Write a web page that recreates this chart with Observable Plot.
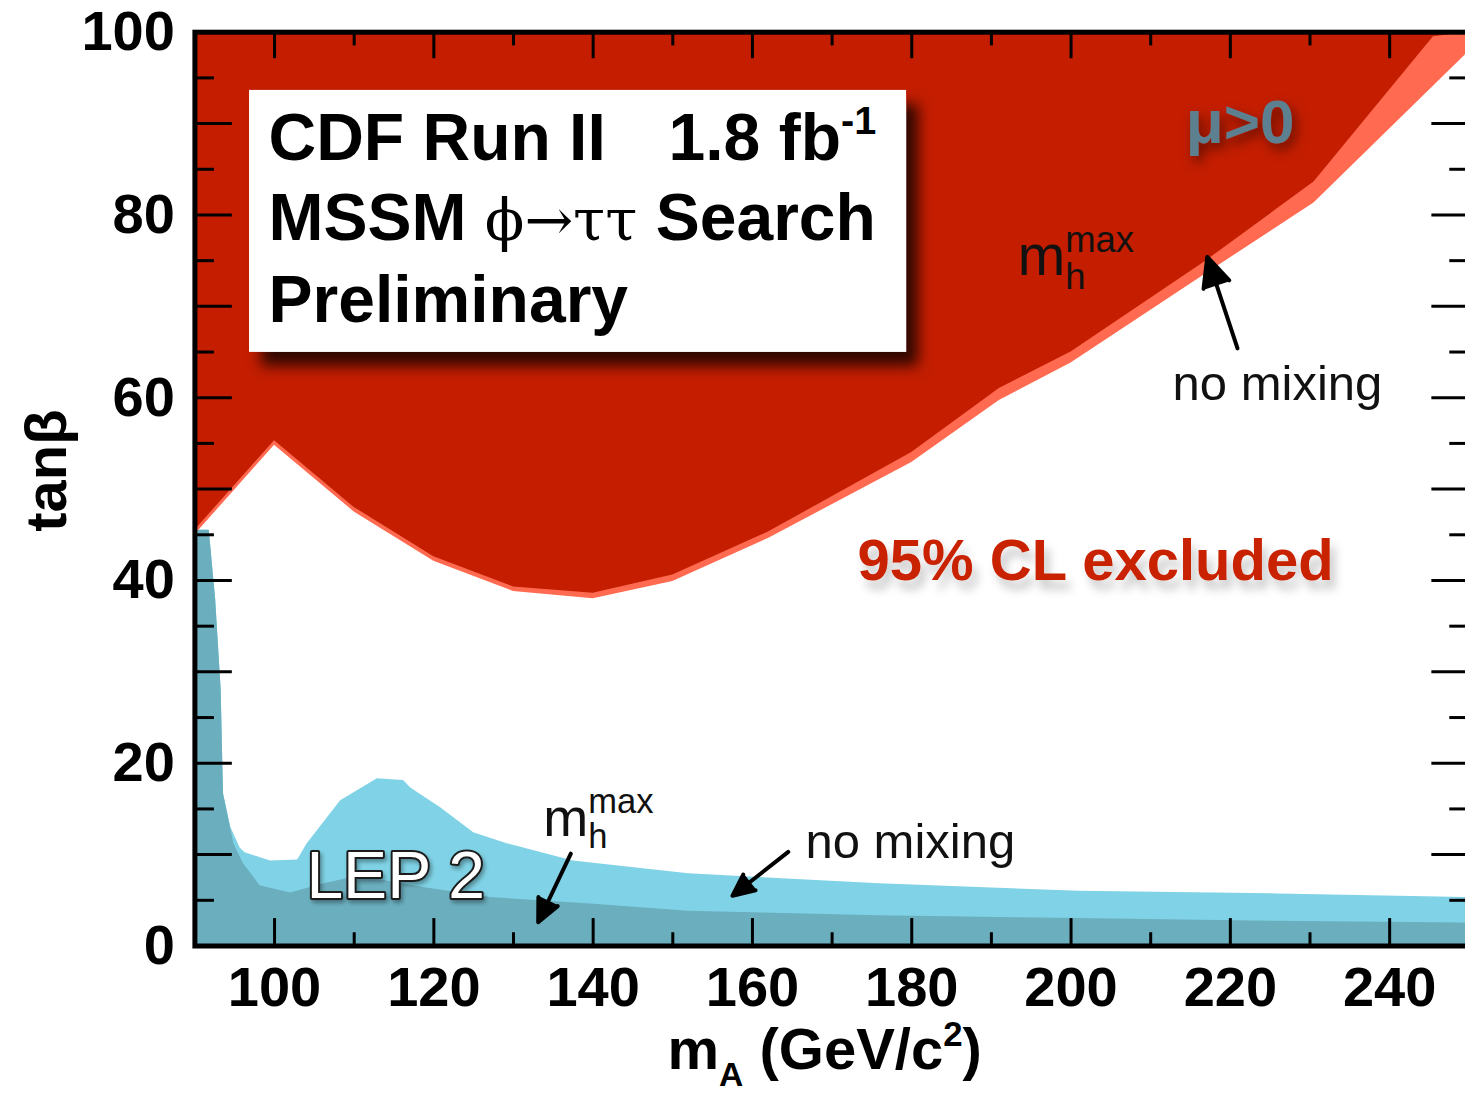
<!DOCTYPE html>
<html><head><meta charset="utf-8">
<script src="https://cdn.jsdelivr.net/npm/d3@7"></script>
<script src="https://cdn.jsdelivr.net/npm/@observablehq/plot@0.6"></script>
<style>
html,body{margin:0;padding:0;background:#fff;overflow:hidden;width:1465px;height:1095px;}
#chart{width:1465px;height:1095px;overflow:hidden;position:relative;}
</style></head><body><div id="chart"></div>
<script>
// CDF 95% CL exclusion boundaries (region above boundary excluded)
const mA_cdf_mhmax   = [90, 100, 110, 120, 130, 140, 150, 162, 180, 191, 200, 217, 230.5, 245.5, 250];
const tanb_cdf_mhmax = [45.5, 55.3, 48.0, 42.6, 39.3, 38.6, 40.6, 45.3, 54.0, 61.0, 65.0, 75.0, 83.6, 99.5, 100];
const mA_cdf_nomix   = [90, 100, 110, 120, 130, 140, 150, 162, 180, 191, 200, 217, 230.5, 249.5, 250];
const tanb_cdf_nomix = [45.0, 54.8, 47.5, 42.1, 38.8, 38.0, 39.9, 44.6, 52.9, 59.7, 63.8, 73.6, 81.3, 97.5, 98.1];
// LEP 2 exclusion (region below boundary excluded)
const mA_lep_nomix   = [90, 91.8, 92.6, 93.3, 93.5, 93.6, 94.5, 95.7, 96.3, 99.5, 102.9, 104.1, 108.3, 112.9, 116.2, 117.1, 120.9, 125, 129.2, 137.5, 152, 176, 201, 226, 250];
const tanb_lep_nomix = [45.5, 45.5, 38, 28, 20, 16.6, 13.0, 10.7, 10.2, 9.3, 9.4, 11.2, 15.9, 18.3, 18.1, 17.3, 15.1, 12.4, 11.2, 9.3, 7.9, 6.8, 6.0, 5.7, 5.3];
const mA_lep_mhmax   = [90, 91.8, 92.6, 93.3, 93.5, 93.6, 94.9, 96.1, 98.2, 102, 106.2, 109.2, 112.9, 118.7, 127.1, 139.7, 152, 176, 201, 226, 250];
const tanb_lep_mhmax = [45.5, 45.5, 38, 28, 20, 16.6, 11.2, 9.0, 6.6, 5.8, 6.8, 7.4, 7.3, 6.4, 5.3, 4.6, 3.8, 3.3, 3.0, 2.7, 2.5];
// ticks
const x_tick_labels = [100, 120, 140, 160, 180, 200, 220, 240];
const x_ticks_minor = [110, 130, 150, 170, 190, 210, 230];
const y_tick_labels = [0, 20, 40, 60, 80, 100];
const y_ticks_major = [10, 20, 30, 40, 50, 60, 70, 80, 90];
const y_ticks_minor = [5, 15, 25, 35, 45, 55, 65, 75, 85, 95];

const zip = (xs, ys) => xs.map((x, i) => ({x, y: ys[i]}));
const serif = "'DejaVu Serif','Liberation Serif',serif";

const plot = Plot.plot({
  width: 1475, height: 1095,
  marginLeft: 194.4, marginRight: 6.2, marginTop: 31.7, marginBottom: 149.5,
  style: {fontFamily: "'Liberation Sans', Arial, Helvetica, sans-serif", fontSize: "56px", fontWeight: "bold", color: "black", background: "white", maxWidth: "none", overflow: "visible"},
  x: {domain: [90, 250], ticks: x_tick_labels, tickSize: 0, tickPadding: 20, label: null},
  y: {domain: [0, 100], ticks: y_tick_labels, tickSize: 0, tickPadding: 20, label: null},
  marks: [
    Plot.areaY(zip(mA_lep_nomix, tanb_lep_nomix), {x: "x", y: "y", fill: "#80D3E6"}),
    Plot.areaY(zip(mA_lep_mhmax, tanb_lep_mhmax), {x: "x", y: "y", fill: "#6BAFBF"}),
    Plot.areaY(zip(mA_cdf_nomix, tanb_cdf_nomix), {x: "x", y1: "y", y2: 100, fill: "#FF6A50"}),
    Plot.areaY(zip(mA_cdf_mhmax, tanb_cdf_mhmax), {x: "x", y1: "y", y2: 100, fill: "#C41D00"}),
    // info box
    Plot.rect([{x1: 96.86, x2: 179.35, y1: 64.96, y2: 93.63}], {x1: "x1", x2: "x2", y1: "y1", y2: "y2", fill: "white"}),
    Plot.text([
      {x: 99.24, y: 85.97, t: "CDF Run II"},
      {x: 149.47, y: 85.97, t: "1.8 fb^{-1}"},
      {x: 99.24, y: 77.21, t: "MSSM ~{ϕ→ττ} Search"},
      {x: 99.24, y: 68.24, t: "Preliminary"}
    ], {x: "x", y: "y", text: "t", textAnchor: "start", lineAnchor: "bottom", fontSize: 66, fontWeight: "bold", fill: "black"}),
    Plot.text([{x: 214.4, y: 87.83, t: "μ>0"}], {x: "x", y: "y", text: "t", textAnchor: "start", lineAnchor: "bottom", fontSize: 62, fontWeight: "bold", fill: "#5B8090"}),
    Plot.text([{x: 193.3, y: 73.38, t: "m_{h}^{max}"}], {x: "x", y: "y", text: "t", textAnchor: "start", lineAnchor: "bottom", fontSize: 57, fontWeight: "normal", fill: "#111"}),
    Plot.text([{x: 212.75, y: 59.71, t: "no mixing"}, {x: 166.66, y: 9.58, t: "no mixing"}], {x: "x", y: "y", text: "t", textAnchor: "start", lineAnchor: "bottom", fontSize: 49, fontWeight: "normal", fill: "#111"}),
    Plot.text([{x: 173.2, y: 40.1, t: "95% CL excluded"}], {x: "x", y: "y", text: "t", textAnchor: "start", lineAnchor: "bottom", fontSize: 58, fontWeight: "bold", fill: "#C82000"}),
    Plot.text([{x: 104.0, y: 5.2, t: "LEP 2"}], {x: "x", y: "y", text: "t", textAnchor: "start", lineAnchor: "bottom", fontSize: 66, fontWeight: "normal", fill: "white", stroke: "#1a1a1a", strokeWidth: 4}),
    Plot.text([{x: 133.74, y: 12.09, t: "m_{h}^{max}"}], {x: "x", y: "y", text: "t", textAnchor: "start", lineAnchor: "bottom", fontSize: 54, fontWeight: "normal", fill: "#111"}),
    // arrows
    Plot.arrow([
      {x1: 220.9, y1: 65.4, x2: 217.1, y2: 75.4},
      {x1: 137.2, y1: 10.1, x2: 133.1, y2: 2.6},
      {x1: 164.5, y1: 10.3, x2: 157.5, y2: 5.5}
    ], {x1: "x1", y1: "y1", x2: "x2", y2: "y2", stroke: "black", strokeWidth: 4, headLength: 24, headAngle: 50}),
    // inward ticks
    Plot.ruleX(x_tick_labels, {x: d => d, y1: 0, y2: 3.0, stroke: "black", strokeWidth: 3}),
    Plot.ruleX(x_ticks_minor, {x: d => d, y1: 0, y2: 1.45, stroke: "black", strokeWidth: 3}),
    Plot.ruleX(x_tick_labels, {x: d => d, y1: 97.1, y2: 100, stroke: "black", strokeWidth: 3}),
    Plot.ruleX(x_ticks_minor, {x: d => d, y1: 98.5, y2: 100, stroke: "black", strokeWidth: 3}),
    Plot.ruleY(y_ticks_major, {y: d => d, x1: 90, x2: 94.7, stroke: "black", strokeWidth: 3}),
    Plot.ruleY(y_ticks_minor, {y: d => d, x1: 90, x2: 92.45, stroke: "black", strokeWidth: 3}),
    Plot.ruleY(y_ticks_major, {y: d => d, x1: 245.3, x2: 250, stroke: "black", strokeWidth: 3}),
    Plot.ruleY(y_ticks_minor, {y: d => d, x1: 247.55, x2: 250, stroke: "black", strokeWidth: 3}),
    Plot.frame({stroke: "black", strokeWidth: 5}),
    // axis titles
    Plot.text(["tanβ"], {frameAnchor: "left", text: d => d, rotate: -90, textAnchor: "middle", lineAnchor: "bottom", dx: -129.4, dy: -18.6, fontSize: 58, fontWeight: "bold"}),
    Plot.text(["m_{A} (GeV/c^{2})"], {frameAnchor: "bottom-left", text: d => d, textAnchor: "start", lineAnchor: "bottom", dx: 472.6, dy: 123, fontSize: 58, fontWeight: "bold"})
  ]
});
document.getElementById("chart").appendChild(plot);

const ns = "http://www.w3.org/2000/svg";
// shadow filters
const defs = document.createElementNS(ns, "defs");
defs.innerHTML =
  '<filter id="boxsh" x="-10%" y="-10%" width="135%" height="145%"><feDropShadow dx="12" dy="14" stdDeviation="7" flood-color="#000" flood-opacity="0.75"/></filter>' +
  '<filter id="clsh" x="-10%" y="-40%" width="130%" height="200%"><feDropShadow dx="5" dy="9" stdDeviation="5" flood-color="#000" flood-opacity="0.22"/></filter>' +
  '<filter id="mush" x="-30%" y="-40%" width="170%" height="200%"><feDropShadow dx="4" dy="6" stdDeviation="6" flood-color="#000" flood-opacity="0.5"/></filter>' +
  '<filter id="lepsh" x="-10%" y="-30%" width="130%" height="170%"><feDropShadow dx="2" dy="3" stdDeviation="2" flood-color="#000" flood-opacity="0.35"/></filter>';
plot.insertBefore(defs, plot.firstChild);
plot.querySelectorAll("rect").forEach(r => { if ((r.getAttribute("fill") || r.parentNode.getAttribute("fill")) === "white") r.setAttribute("filter", "url(#boxsh)"); });
plot.querySelectorAll("text").forEach(t => {
  const s = t.textContent;
  if (s === "95% CL excluded") t.setAttribute("filter", "url(#clsh)");
  if (s === "μ>0") t.setAttribute("filter", "url(#mush)");
  if (s === "LEP 2") t.setAttribute("filter", "url(#lepsh)");
});

// fill arrowheads
plot.querySelectorAll('g[aria-label="arrow"] path').forEach(p => {
  const segs = (p.getAttribute("d") || "").split("M").filter(Boolean);
  const last = segs[segs.length - 1];
  const pts = last.split("L").map(q => q.trim().split(/[ ,]+/).map(Number));
  if (pts.length === 3 && pts.every(q => q.length === 2 && q.every(isFinite))) {
    const head = document.createElementNS(ns, "path");
    head.setAttribute("d", `M${pts[0]}L${pts[1]}L${pts[2]}Z`);
    head.setAttribute("fill", "black");
    head.setAttribute("stroke", "black");
    head.setAttribute("stroke-width", "2");
    head.setAttribute("stroke-linejoin", "miter");
    p.parentNode.appendChild(head);
  }
});

// convert tiny markup (^{..} sup, _{..} sub, _{..}^{..} stacked, ~{..} serif) into tspans
plot.querySelectorAll("text").forEach(el => {
  const s = el.textContent;
  if (!/[\^_~]\{/.test(s)) return;
  const fs = parseFloat(getComputedStyle(el).fontSize);
  while (el.firstChild) el.removeChild(el.firstChild);
  const re = /_\{([^}]*)\}\^\{([^}]*)\}|\^\{([^}]*)\}|_\{([^}]*)\}|~\{([^}]*)\}|([^_^~]+)/g;
  let shift = 0, m;
  const add = (t, a) => { const ts = document.createElementNS(ns, "tspan"); ts.textContent = t; for (const k in a) ts.setAttribute(k, a[k]); el.appendChild(ts); return ts; };
  while ((m = re.exec(s))) {
    if (m[1] !== undefined) {
      const sub = add(m[1], {"font-size": fs * 0.64, dy: 0.24 * fs - shift}); shift = 0.24 * fs;
      const w = sub.getComputedTextLength();
      add(m[2], {"font-size": fs * 0.64, dx: -w, dy: -0.42 * fs - shift}); shift = -0.42 * fs;
    } else if (m[3] !== undefined) {
      add(m[3], {"font-size": fs * 0.6, dy: -0.4 * fs - shift}); shift = -0.4 * fs;
    } else if (m[4] !== undefined) {
      add(m[4], {"font-size": fs * 0.58, dy: 0.3 * fs - shift}); shift = 0.3 * fs;
    } else if (m[5] !== undefined) {
      add(m[5], {"font-family": serif, "font-weight": "normal", "font-size": fs * 0.88, dy: -shift}); shift = 0;
    } else {
      add(m[6], {dy: -shift}); shift = 0;
    }
  }
});
</script></body></html>
